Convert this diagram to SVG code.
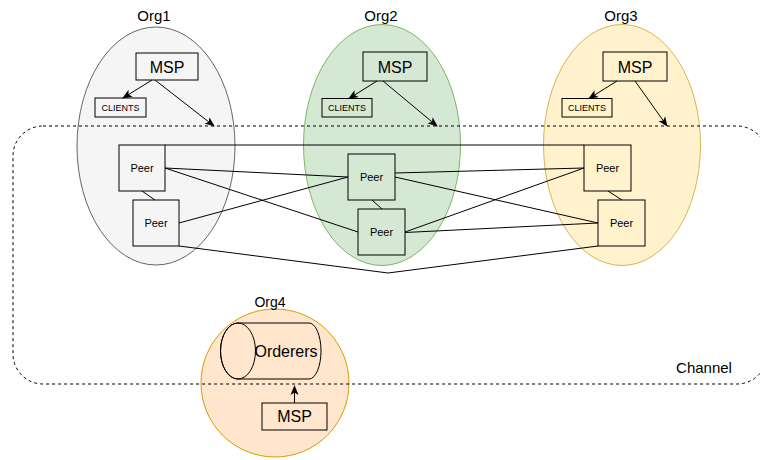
<svg xmlns="http://www.w3.org/2000/svg" width="760" height="460" viewBox="0 0 760 460">
  <style>
    text { font-family: "Liberation Sans", Arial, sans-serif; fill: #000; text-anchor: middle; }
    .org-label { font-size: 15px; }
    .msp { font-size: 16px; }
    .clients { font-size: 9px; }
    .peer { font-size: 11px; }
    .box { fill: none; stroke: #000; stroke-width: 1; }
    .edge { fill: none; stroke: #000; stroke-width: 1; }
    .arrow { fill: none; stroke: #000; stroke-width: 1; marker-end: url(#head); }
    .channel { fill: none; stroke: #000; stroke-width: 1; stroke-dasharray: 3 3; }
  </style>
  <defs>
    <marker id="head" viewBox="0 0 10 10" refX="9" refY="5" markerWidth="10" markerHeight="10" orient="auto" markerUnits="userSpaceOnUse">
      <path d="M0,1 L10,5 L0,9 L2.5,5 Z" fill="#000"/>
    </marker>
  </defs>

  <rect width="760" height="460" fill="#fff"/>

  <!-- Organisations -->
  <g id="org1">
    <ellipse cx="156" cy="146" rx="79" ry="119" fill="#f5f5f5" stroke="#666666"/>
    <text class="org-label" x="154" y="21">Org1</text>
  </g>
  <g id="org2">
    <ellipse cx="382" cy="145" rx="78.5" ry="120.5" fill="#d5e8d4" stroke="#82b366"/>
    <text class="org-label" x="381" y="21">Org2</text>
  </g>
  <g id="org3">
    <ellipse cx="622" cy="145" rx="78.5" ry="120.5" fill="#fff2cc" stroke="#d6b656"/>
    <text class="org-label" x="621" y="21">Org3</text>
  </g>
  <g id="org4">
    <circle cx="275" cy="383" r="74" fill="#ffe6cc" stroke="#d79b00"/>
    <text class="org-label" x="270" y="307" style="font-size:14px">Org4</text>
  </g>

  <!-- Channel boundary -->
  <g id="channel">
    <rect class="channel" x="13" y="126" width="754" height="258" rx="30" ry="30"/>
    <text x="704" y="373" style="font-size:15px">Channel</text>
  </g>

  <!-- MSP and client boxes -->
  <g id="org1-msp">
    <rect class="box" x="136" y="53" width="62" height="27"/>
    <text class="msp" x="167" y="72.5">MSP</text>
  </g>
  <g id="org1-clients">
    <rect class="box" x="95" y="98" width="51" height="19"/>
    <text class="clients" x="120.5" y="111">CLIENTS</text>
  </g>
  <g id="org2-msp">
    <rect class="box" x="363" y="52" width="64" height="29"/>
    <text class="msp" x="395" y="72.5">MSP</text>
  </g>
  <g id="org2-clients">
    <rect class="box" x="322" y="98.5" width="50" height="18.5"/>
    <text class="clients" x="347" y="111">CLIENTS</text>
  </g>
  <g id="org3-msp">
    <rect class="box" x="603" y="52" width="64" height="29"/>
    <text class="msp" x="635" y="72.5">MSP</text>
  </g>
  <g id="org3-clients">
    <rect class="box" x="562" y="98.5" width="50" height="18.5"/>
    <text class="clients" x="587" y="111">CLIENTS</text>
  </g>

  <!-- Peers -->
  <g id="org1-peer1">
    <rect class="box" x="119" y="145" width="46" height="46"/>
    <text class="peer" x="142" y="172">Peer</text>
  </g>
  <g id="org1-peer2">
    <rect class="box" x="133" y="200" width="46" height="46"/>
    <text class="peer" x="156" y="227">Peer</text>
  </g>
  <g id="org2-peer1">
    <rect class="box" x="348" y="154" width="47" height="46"/>
    <text class="peer" x="371.5" y="181">Peer</text>
  </g>
  <g id="org2-peer2">
    <rect class="box" x="358" y="209" width="47" height="46"/>
    <text class="peer" x="381.5" y="236">Peer</text>
  </g>
  <g id="org3-peer1">
    <rect class="box" x="584" y="145" width="47" height="46"/>
    <text class="peer" x="607.5" y="172">Peer</text>
  </g>
  <g id="org3-peer2">
    <rect class="box" x="598" y="200" width="47" height="46"/>
    <text class="peer" x="621.5" y="227">Peer</text>
  </g>

  <!-- Ordering service -->
  <g id="orderers">
    <path class="box" d="M238,323 L309,323 A12,28 0 0 1 309,379 L238,379 A17.5,28 0 0 1 238,323 Z"/>
    <ellipse class="box" cx="238" cy="351" rx="17.5" ry="28"/>
    <text x="286" y="357" style="font-size:16px">Orderers</text>
  </g>
  <g id="org4-msp">
    <rect class="box" x="262" y="403" width="65" height="27"/>
    <text class="msp" x="294.5" y="422">MSP</text>
  </g>

  <!-- Connectors -->
  <g id="connectors">
    <line class="arrow" x1="152" y1="80" x2="123" y2="98"/>
    <line class="arrow" x1="155" y1="80" x2="214" y2="126"/>
    <line class="arrow" x1="377" y1="81" x2="349" y2="98.5"/>
    <line class="arrow" x1="383" y1="81" x2="437" y2="126"/>
    <line class="arrow" x1="617" y1="81" x2="589" y2="98.5"/>
    <line class="arrow" x1="635" y1="81" x2="667" y2="126"/>
    <line class="arrow" x1="294.5" y1="403" x2="294.5" y2="386"/>

    <line class="edge" x1="142" y1="191" x2="155" y2="200"/>
    <line class="edge" x1="372" y1="200" x2="382" y2="209"/>
    <line class="edge" x1="608" y1="191" x2="622" y2="200"/>

    <line class="edge" x1="165" y1="145" x2="584" y2="145"/>
    <line class="edge" x1="165" y1="168" x2="348" y2="177"/>
    <line class="edge" x1="165" y1="168" x2="358" y2="232"/>
    <line class="edge" x1="179" y1="223" x2="348" y2="177"/>
    <polyline class="edge" points="179,246 388,273 598,246"/>
    <line class="edge" x1="395" y1="173" x2="584" y2="168"/>
    <line class="edge" x1="395" y1="177" x2="598" y2="223"/>
    <line class="edge" x1="405" y1="232" x2="584" y2="168"/>
    <line class="edge" x1="405" y1="232.5" x2="598" y2="223"/>
  </g>
</svg>
